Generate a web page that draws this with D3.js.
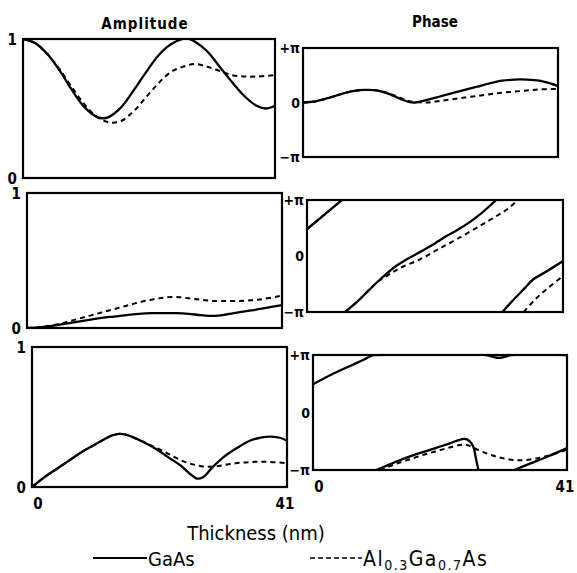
<!DOCTYPE html>
<html>
<head>
<meta charset="utf-8">
<script src="https://cdn.jsdelivr.net/npm/d3@7"></script>
<style>
  body { margin: 0; background: #fff; }
  text { font-family: "DejaVu Sans Condensed", "DejaVu Sans", sans-serif; fill: #000; }
</style>
</head>
<body>
<div id="chart"></div>
<script>
// thickness runs 0..41 nm; phase values are stored in units of pi
const thicknessRange = [0, 41];

// row 1
const amp1GaAs = [[0,1],[2,0.97],[4,0.89],[6,0.77],[8,0.63],[10,0.51],[12,0.44],[13,0.43],[14,0.44],[16,0.51],[18,0.63],[20,0.76],[22,0.88],[24,0.96],[26,1],[27,1],[28,0.98],[30,0.91],[32,0.8],[34,0.69],[36,0.59],[38,0.52],[39.5,0.5],[41,0.52]];
const amp1AlGaAs = [[0,1],[2,0.97],[4,0.89],[6,0.78],[8,0.65],[10,0.53],[12,0.44],[14,0.4],[15,0.4],[16,0.41],[18,0.48],[20,0.58],[22,0.68],[24,0.76],[26,0.8],[28,0.82],[30,0.8],[32,0.77],[34,0.74],[36,0.73],[38,0.73],[41,0.74]];
const ph1GaAs = [[[0,0],[2,0.02],[4,0.08],[6,0.15],[8,0.21],[10,0.23],[12,0.22],[14,0.15],[16,0.05],[17,0.01],[18,0],[20,0.05],[22,0.11],[24,0.17],[26,0.23],[28,0.29],[30,0.35],[32,0.4],[34,0.42],[36,0.42],[38,0.4],[40,0.34],[41,0.3]]];
const ph1AlGaAs = [[[0,0],[2,0.02],[4,0.08],[6,0.15],[8,0.21],[10,0.23],[12,0.22],[14,0.16],[16,0.07],[17,0.03],[18,0.01],[20,0],[22,0.03],[24,0.06],[26,0.09],[28,0.12],[30,0.15],[32,0.18],[34,0.2],[36,0.22],[38,0.24],[41,0.25]]];

// row 2
const amp2GaAs = [[0,0],[2,0.005],[4,0.015],[6,0.03],[8,0.045],[10,0.06],[12,0.075],[14,0.085],[16,0.095],[18,0.105],[20,0.11],[22,0.11],[24,0.11],[26,0.105],[28,0.095],[30,0.09],[32,0.1],[34,0.115],[36,0.13],[38,0.145],[41,0.17]];
const amp2AlGaAs = [[0,0],[2,0.005],[4,0.02],[6,0.04],[8,0.065],[10,0.09],[12,0.115],[14,0.14],[16,0.165],[18,0.19],[20,0.21],[22,0.225],[24,0.23],[26,0.22],[28,0.21],[30,0.2],[32,0.2],[34,0.2],[36,0.205],[38,0.215],[41,0.24]];
const ph2GaAs = [
  [[0,0.48],[2.8,0.74],[5.6,1]],
  [[6.1,-1],[8,-0.82],[10,-0.6],[11.7,-0.42],[14,-0.2],[16,-0.06],[18.1,0.07],[20,0.19],[22.4,0.36],[24,0.46],[26,0.6],[28,0.77],[30.3,1]],
  [[31.3,-1],[33,-0.79],[35,-0.56],[36.2,-0.42],[38,-0.3],[41,-0.09]]
];
const ph2AlGaAs = [
  [[0,0.48],[2.8,0.74],[5.6,1]],
  [[6.1,-1],[8,-0.82],[10,-0.6],[11.2,-0.47],[13,-0.34],[15,-0.21],[18.1,-0.06],[21,0.12],[24,0.3],[27.7,0.54],[30,0.69],[32,0.83],[33.8,1]],
  [[34.7,-1],[36.5,-0.78],[38.5,-0.58],[41,-0.36]]
];

// row 3
const amp3GaAs = [[0,0],[2,0.07],[4,0.13],[6,0.19],[8,0.25],[10,0.3],[12,0.35],[13,0.37],[14,0.38],[15,0.375],[16,0.36],[18,0.32],[20,0.27],[22,0.21],[24,0.15],[25.5,0.09],[26.5,0.06],[27.5,0.07],[29,0.14],[31,0.22],[33,0.28],[35,0.33],[37,0.355],[38.5,0.36],[40,0.35],[41,0.33]];
const amp3AlGaAs = [[0,0],[2,0.07],[4,0.13],[6,0.19],[8,0.25],[10,0.3],[12,0.35],[13,0.37],[14,0.38],[15,0.375],[16,0.36],[18,0.32],[20,0.28],[22,0.235],[24,0.19],[26,0.16],[28,0.145],[30,0.15],[32,0.165],[34,0.175],[36,0.18],[38,0.18],[41,0.17]];
const ph3GaAs = [
  [[0,0.49],[3,0.66],[6,0.81],[8,0.91],[9.7,1]],
  [[9.7,1],[28,1],[29,0.97],[30,0.95],[31,0.97],[32,1],[41,1]],
  [[10.2,-1],[12,-0.92],[14,-0.83],[16,-0.75],[18,-0.68],[20,-0.61],[22,-0.54],[23.5,-0.48],[24.5,-0.46],[25.3,-0.5],[25.9,-0.6],[26.3,-0.8],[26.7,-1]],
  [[32.5,-1],[35,-0.89],[38,-0.76],[41,-0.62]]
];
const ph3AlGaAs = [
  [[10.8,-1],[12,-0.95],[14,-0.87],[16,-0.8],[18,-0.73],[20,-0.67],[22,-0.61],[24,-0.56],[25,-0.57],[26,-0.62],[28,-0.71],[30,-0.78],[32,-0.82],[34,-0.83],[36,-0.8],[38,-0.75],[41,-0.65]]
];

const ampTicks = ["1", "0"];
const phaseTicks = ["+\u03c0", "0", "\u2212\u03c0"];
const xTicks = ["0", "41"];

const width = 577, height = 573;
const svg = d3.select("#chart").append("svg")
  .attr("width", width)
  .attr("height", height);

// panel boxes (the scan is a little skewed, so every box gets its own place)
const panels = [
  {id: "a1", kind: "amp", x0: 23, x1: 275, y0: 39, y1: 178, solid: [amp1GaAs], dashed: [amp1AlGaAs]},
  {id: "p1", kind: "phase", x0: 303, x1: 558, y0: 48, y1: 157, solid: ph1GaAs, dashed: ph1AlGaAs},
  {id: "a2", kind: "amp", x0: 27, x1: 282, y0: 193, y1: 328, solid: [amp2GaAs], dashed: [amp2AlGaAs]},
  {id: "p2", kind: "phase", x0: 307, x1: 563, y0: 200, y1: 312, solid: ph2GaAs, dashed: ph2AlGaAs},
  {id: "a3", kind: "amp", x0: 32, x1: 287, y0: 347, y1: 487, solid: [amp3GaAs], dashed: [amp3AlGaAs]},
  {id: "p3", kind: "phase", x0: 313, x1: 567, y0: 355, y1: 470, solid: ph3GaAs, dashed: ph3AlGaAs}
];

const defs = svg.append("defs");

panels.forEach(p => {
  const x = d3.scaleLinear().domain(thicknessRange).range([p.x0, p.x1]);
  const y = p.kind === "amp"
    ? d3.scaleLinear().domain([0, 1]).range([p.y1, p.y0])
    : d3.scaleLinear().domain([-1, 1]).range([p.y1, p.y0]);

  defs.append("clipPath").attr("id", "clip-" + p.id)
    .append("rect")
    .attr("x", p.x0).attr("y", p.y0)
    .attr("width", p.x1 - p.x0).attr("height", p.y1 - p.y0);

  const line = d3.line()
    .x(d => x(d[0]))
    .y(d => y(d[1]))
    .curve(d3.curveCatmullRom.alpha(0.5));

  const g = svg.append("g").attr("clip-path", `url(#clip-${p.id})`);

  g.selectAll("path.dashed")
    .data(p.dashed)
    .enter().append("path")
    .attr("class", "dashed")
    .attr("d", line)
    .attr("fill", "none")
    .attr("stroke", "#000")
    .attr("stroke-width", 2)
    .attr("stroke-dasharray", "5,4");

  g.selectAll("path.solid")
    .data(p.solid)
    .enter().append("path")
    .attr("class", "solid")
    .attr("d", line)
    .attr("fill", "none")
    .attr("stroke", "#000")
    .attr("stroke-width", 2.3);

  svg.append("rect")
    .attr("x", p.x0).attr("y", p.y0)
    .attr("width", p.x1 - p.x0).attr("height", p.y1 - p.y0)
    .attr("fill", "none")
    .attr("stroke", "#000")
    .attr("stroke-width", 2.2);

  // y labels
  if (p.kind === "amp") {
    const vals = [1, 0];
    svg.selectAll(null).data(vals).enter().append("text")
      .attr("x", p.x0 - 6)
      .attr("y", d => y(d) + 6)
      .attr("text-anchor", "end")
      .attr("font-size", 15)
      .attr("font-weight", "bold")
      .text((d, i) => ampTicks[i]);
  } else {
    const vals = [1, 0, -1];
    svg.selectAll(null).data(vals).enter().append("text")
      .attr("x", p.x0 - 3)
      .attr("y", d => y(d) + 5)
      .attr("text-anchor", "end")
      .attr("font-size", 14)
      .attr("font-weight", "bold")
      .text((d, i) => phaseTicks[i]);
  }

  // x labels under the bottom row only
  if (p.id === "a3" || p.id === "p3") {
    svg.selectAll(null).data(thicknessRange).enter().append("text")
      .attr("x", d => x(d) + (d === 0 ? 6 : -2))
      .attr("y", p.y1 + 22)
      .attr("text-anchor", "middle")
      .attr("font-size", 15)
      .attr("font-weight", "bold")
      .text((d, i) => xTicks[i]);
  }
});

// column titles
svg.append("text")
  .attr("x", 145).attr("y", 29)
  .attr("text-anchor", "middle")
  .attr("font-size", 15)
  .attr("font-weight", "bold")
  .attr("letter-spacing", 1)
  .text("Amplitude");

svg.append("text")
  .attr("x", 435).attr("y", 27)
  .attr("text-anchor", "middle")
  .attr("font-size", 15)
  .attr("font-weight", "bold")
  .text("Phase");

// x axis title
svg.append("text")
  .attr("x", 256).attr("y", 540)
  .attr("text-anchor", "middle")
  .attr("font-size", 20)
  .text("Thickness (nm)");

// legend
const legend = svg.append("g");
legend.append("line")
  .attr("x1", 93).attr("x2", 147).attr("y1", 558).attr("y2", 558)
  .attr("stroke", "#000").attr("stroke-width", 2);
legend.append("text")
  .attr("x", 148).attr("y", 566)
  .attr("font-size", 20)
  .text("GaAs");
legend.append("line")
  .attr("x1", 310).attr("x2", 362).attr("y1", 558).attr("y2", 558)
  .attr("stroke", "#000").attr("stroke-width", 1.5)
  .attr("stroke-dasharray", "5,3");
const al = legend.append("text")
  .attr("x", 363).attr("y", 566)
  .attr("font-size", 21)
  .attr("letter-spacing", 1.5);
al.append("tspan").text("Al");
al.append("tspan").attr("font-size", 14).attr("dy", 4).text("0.3");
al.append("tspan").attr("dy", -4).text("Ga");
al.append("tspan").attr("font-size", 14).attr("dy", 4).text("0.7");
al.append("tspan").attr("dy", -4).text("As");
</script>
</body>
</html>
